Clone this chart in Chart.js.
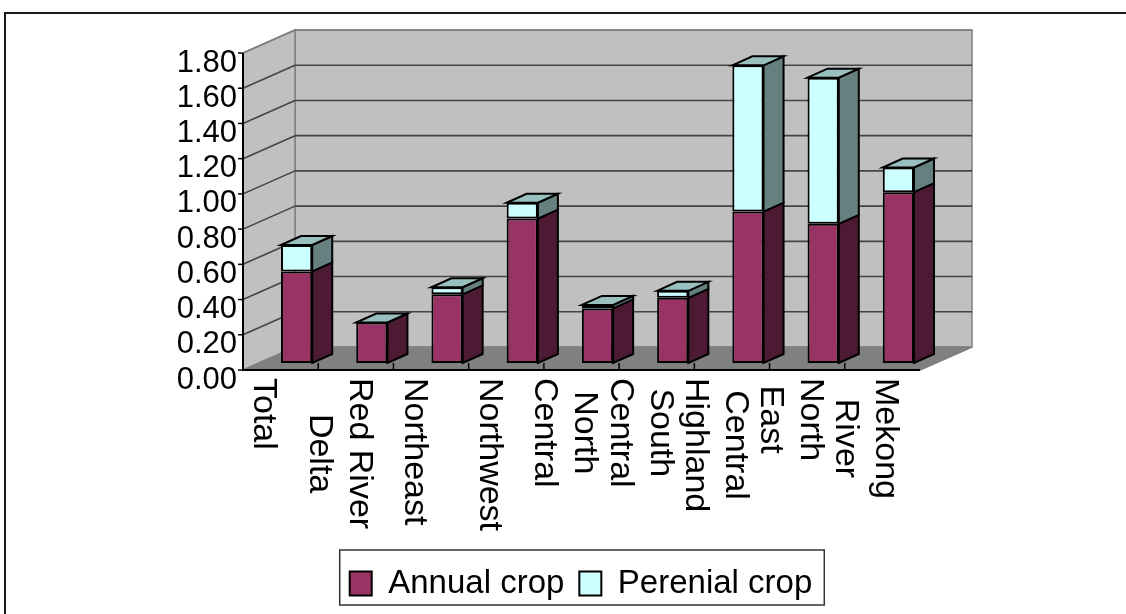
<!DOCTYPE html>
<html>
<head>
<meta charset="utf-8">
<script src="https://cdn.jsdelivr.net/npm/chart.js@4.4.1/dist/chart.umd.min.js"></script>
<style>
  html, body { margin: 0; padding: 0; background: #ffffff; }
  #wrap { width: 1126px; height: 614px; }
</style>
</head>
<body>
<div id="wrap"><canvas id="chart" width="1126" height="614"></canvas></div>
<script>
// Regions (multi-line labels are drawn top-to-bottom, first line on the right)
const categories = [
  ['Total'],
  ['Red River', 'Delta'],
  ['Northeast'],
  ['Northwest'],
  ['North', 'Central'],
  ['South', 'Central'],
  ['Central', 'Highland'],
  ['North', 'East'],
  ['Mekong', 'River']
];
const annualCrop   = [0.52, 0.23, 0.39, 0.82, 0.31, 0.37, 0.86, 0.79, 0.97];
const perenialCrop = [0.15, 0.00, 0.04, 0.09, 0.02, 0.04, 0.83, 0.83, 0.14];
const yTickValues  = [0, 0.2, 0.4, 0.6, 0.8, 1.0, 1.2, 1.4, 1.6, 1.8];
const yTickLabels  = ['0.00', '0.20', '0.40', '0.60', '0.80', '1.00', '1.20', '1.40', '1.60', '1.80'];

const FONT = '"Liberation Sans", Arial, Helvetica, sans-serif';

// Perspective of the box, in pixels, relative to the plane of the bar fronts
const FRONT = { dx: -16, dy: 7 };     // front edge of floor / axis plane
const BACK = { dx: 36, dy: -16 };     // back wall plane
const BAR_DEPTH = { dx: 20, dy: -9 }; // thickness of each column

const frontColors = ['#993366', '#ccffff'];
const sideColors  = ['#4d1a33', '#668080'];
const topColors   = ['#733350', '#99bfbf'];

function poly(ctx, pts, fill, stroke, lw) {
  ctx.beginPath();
  ctx.moveTo(pts[0][0], pts[0][1]);
  for (let i = 1; i < pts.length; i++) ctx.lineTo(pts[i][0], pts[i][1]);
  ctx.closePath();
  if (fill) { ctx.fillStyle = fill; ctx.fill(); }
  if (stroke) { ctx.strokeStyle = stroke; ctx.lineWidth = lw || 1; ctx.stroke(); }
}
function line(ctx, x1, y1, x2, y2, color, lw) {
  ctx.beginPath();
  ctx.moveTo(x1, y1);
  ctx.lineTo(x2, y2);
  ctx.strokeStyle = color;
  ctx.lineWidth = lw;
  ctx.stroke();
}

const box3d = {
  id: 'box3d',
  beforeDraw(chart) {
    const ctx = chart.ctx;
    ctx.save();
    ctx.strokeStyle = '#1a1a1a';
    ctx.lineWidth = 2;
    ctx.strokeRect(5, 13, 1200, 700);
    ctx.restore();
  },
  beforeDatasetsDraw(chart) {
    const ctx = chart.ctx;
    const xs = chart.scales.x, ys = chart.scales.y, a = chart.chartArea;
    const y0 = ys.getPixelForValue(0);
    const yMax = ys.getPixelForValue(yTickValues[yTickValues.length - 1]);
    const fl = a.left + FRONT.dx, fr = a.right + FRONT.dx;
    const bl = a.left + BACK.dx, br = a.right + BACK.dx;
    ctx.save();
    ctx.lineJoin = 'miter';

    // walls and floor
    poly(ctx, [[bl, yMax + BACK.dy], [br, yMax + BACK.dy], [br, y0 + BACK.dy], [bl, y0 + BACK.dy]], '#c0c0c0', '#808080', 1.5);
    poly(ctx, [[fl, yMax + FRONT.dy], [bl, yMax + BACK.dy], [bl, y0 + BACK.dy], [fl, y0 + FRONT.dy]], '#c0c0c0', '#808080', 1.5);
    poly(ctx, [[fl, y0 + FRONT.dy], [bl, y0 + BACK.dy], [br, y0 + BACK.dy], [fr, y0 + FRONT.dy]], '#808080', '#808080', 1);

    // gridlines on back and left walls
    yTickValues.forEach((v, i) => {
      if (i === 0) return;
      const y = ys.getPixelForValue(v);
      const col = i === yTickValues.length - 1 ? '#808080' : '#444444';
      line(ctx, bl, y + BACK.dy, br, y + BACK.dy, col, 1.6);
      line(ctx, fl, y + FRONT.dy, bl, y + BACK.dy, col, 1.6);
    });

    // axis lines
    line(ctx, fl, yMax + FRONT.dy, fl, y0 + FRONT.dy + 1, '#000000', 2);
    line(ctx, fl, y0 + FRONT.dy, fr, y0 + FRONT.dy, '#000000', 2);
    line(ctx, fr, y0 + FRONT.dy, br, y0 + BACK.dy, '#808080', 1.5);

    // category tick marks
    for (let i = 1; i < categories.length; i++) {
      const x = (xs.getPixelForValue(i - 1) + xs.getPixelForValue(i)) / 2 + FRONT.dx;
      line(ctx, x, y0 + FRONT.dy, x, y0, '#000000', 1.5);
    }

    // value axis ticks and labels
    ctx.font = '31px ' + FONT;
    ctx.fillStyle = '#000000';
    ctx.textAlign = 'right';
    ctx.textBaseline = 'middle';
    yTickValues.forEach((v, i) => {
      const y = ys.getPixelForValue(v) + FRONT.dy;
      line(ctx, fl - 5, y, fl, y, '#000000', 1.5);
      ctx.fillText(yTickLabels[i], fl - 6, y + 10);
    });

    // category labels, rotated to read downwards
    const catSize = 34, capH = catSize * 0.716, lineGap = 40;
    ctx.font = catSize + 'px ' + FONT;
    ctx.textAlign = 'center';
    ctx.textBaseline = 'alphabetic';
    const labelTop = y0 + FRONT.dy + 8;
    categories.forEach((lines, i) => {
      const cx = xs.getPixelForValue(i) + FRONT.dx - 14;
      const maxW = Math.max(...lines.map(t => ctx.measureText(t).width));
      const cy = labelTop + maxW / 2;
      lines.forEach((t, j) => {
        const xc = cx + ((lines.length - 1) / 2 - j) * lineGap;
        ctx.save();
        ctx.translate(xc - capH / 2, cy);
        ctx.rotate(Math.PI / 2);
        ctx.fillText(t, 0, 0);
        ctx.restore();
      });
    });
    ctx.restore();
  },
  afterDatasetsDraw(chart) {
    const ctx = chart.ctx;
    ctx.save();
    ctx.lineJoin = 'miter';
    const n = chart.data.datasets.length;
    chart.data.datasets.forEach((ds, d) => {
      const meta = chart.getDatasetMeta(d);
      meta.data.forEach((bar) => {
        const p = bar.getProps(['x', 'y', 'base', 'width'], true);
        const left = p.x - p.width / 2, right = p.x + p.width / 2;
        const top = Math.min(p.y, p.base), bottom = Math.max(p.y, p.base);
        if (bottom - top > 0.01) {
          poly(ctx, [[right, top], [right + BAR_DEPTH.dx, top + BAR_DEPTH.dy],
                     [right + BAR_DEPTH.dx, bottom + BAR_DEPTH.dy], [right, bottom]],
               sideColors[d], '#000000', 2);
        }
        if (d === n - 1) {
          poly(ctx, [[left, top], [left + BAR_DEPTH.dx, top + BAR_DEPTH.dy],
                     [right + BAR_DEPTH.dx, top + BAR_DEPTH.dy], [right, top]],
               topColors[d], '#000000', 2);
        }
      });
    });
    ctx.restore();
  },
  afterDraw(chart) {
    const lg = chart.legend;
    if (!lg || !lg.legendHitBoxes || !lg.legendHitBoxes.length) return;
    const hb = lg.legendHitBoxes;
    const ctx = chart.ctx;
    const x0 = hb[0].left - 10;
    const x1 = hb[hb.length - 1].left + hb[hb.length - 1].width + 12;
    ctx.save();
    ctx.strokeStyle = '#333333';
    ctx.lineWidth = 1.5;
    ctx.strokeRect(x0, lg.top - 2, x1 - x0, 55);
    ctx.restore();
  }
};

new Chart(document.getElementById('chart'), {
  type: 'bar',
  data: {
    labels: categories,
    datasets: [
      {
        label: 'Annual crop',
        data: annualCrop,
        backgroundColor: frontColors[0],
        borderColor: '#000000',
        borderWidth: 2,
        borderSkipped: false,
        categoryPercentage: 1,
        barPercentage: 0.415
      },
      {
        label: 'Perenial crop',
        data: perenialCrop,
        backgroundColor: frontColors[1],
        borderColor: '#000000',
        borderWidth: 2,
        borderSkipped: false,
        categoryPercentage: 1,
        barPercentage: 0.415
      }
    ]
  },
  options: {
    responsive: false,
    animation: false,
    devicePixelRatio: 1,
    layout: { padding: { left: 226, right: 190, top: 46, bottom: 4 } },
    plugins: {
      legend: {
        display: true,
        position: 'bottom',
        labels: {
          boxWidth: 22,
          boxHeight: 24,
          padding: 15,
          color: '#000000',
          font: { family: FONT, size: 33 }
        }
      },
      tooltip: { enabled: false }
    },
    scales: {
      x: {
        stacked: true,
        grid: { display: false },
        border: { display: false },
        ticks: { display: false },
        afterFit(scale) { scale.height = 189; }
      },
      y: {
        stacked: true,
        min: 0,
        max: 1.8,
        grid: { display: false },
        border: { display: false },
        ticks: { display: false, stepSize: 0.2 },
        afterFit(scale) { scale.width = 33; }
      }
    }
  },
  plugins: [box3d]
});
</script>
</body>
</html>
